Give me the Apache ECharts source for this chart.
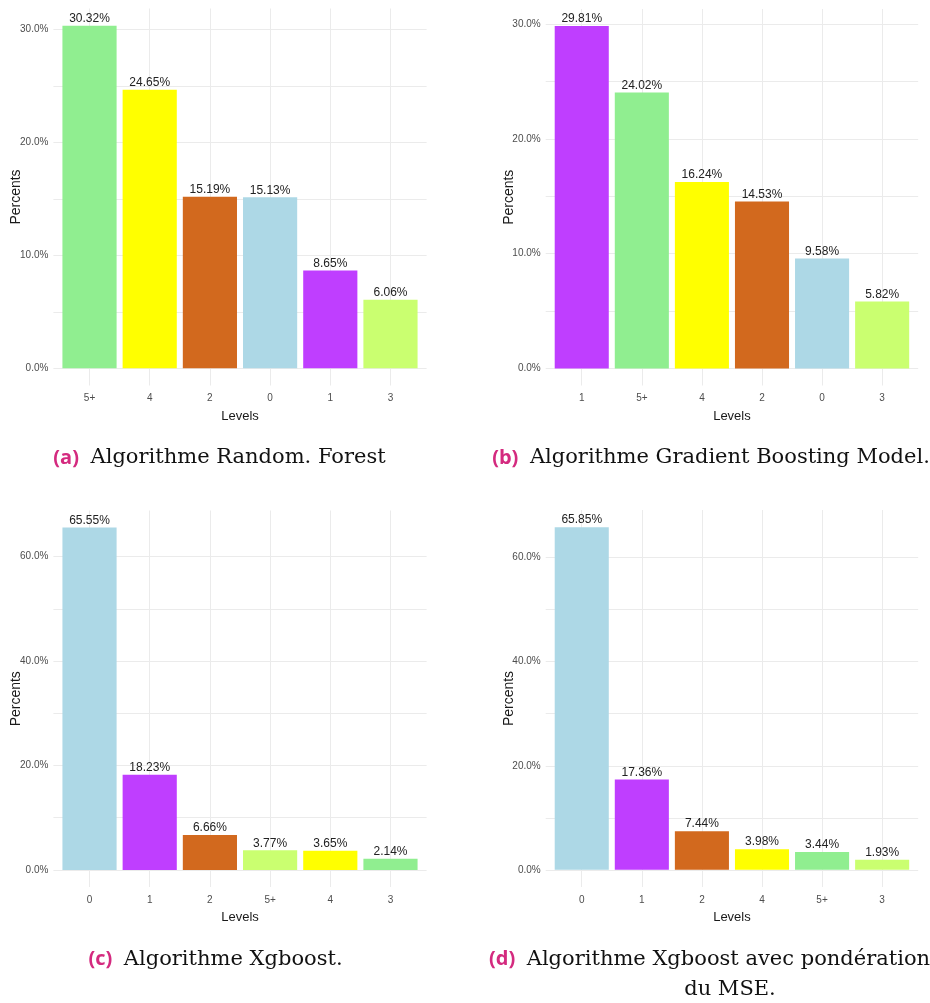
<!DOCTYPE html>
<html>
<head>
<meta charset="utf-8">
<script src="https://cdn.jsdelivr.net/npm/echarts@6/dist/echarts.min.js"></script>
<style>
  html, body { margin: 0; padding: 0; background: #ffffff; }
  #chart { width: 930px; height: 1003px; }
</style>
</head>
<body>
<div id="chart"></div>
<script>
// Distribution of predicted levels (percent of observations) for four models.
const levelsA = ['5+', '4', '2', '0', '1', '3'];
const percentsA = [30.32, 24.65, 15.19, 15.13, 8.65, 6.06];

const levelsB = ['1', '5+', '4', '2', '0', '3'];
const percentsB = [29.81, 24.02, 16.24, 14.53, 9.58, 5.82];

const levelsC = ['0', '1', '2', '5+', '4', '3'];
const percentsC = [65.55, 18.23, 6.66, 3.77, 3.65, 2.14];

const levelsD = ['0', '1', '2', '4', '5+', '3'];
const percentsD = [65.85, 17.36, 7.44, 3.98, 3.44, 1.93];

const captionLabels = ['(a)', '(b)', '(c)', '(d)'];
const captionTexts = [
  'Algorithme Random. Forest',
  'Algorithme Gradient Boosting Model.',
  'Algorithme Xgboost.',
  'Algorithme Xgboost avec pondération'
];
const captionContinuation = 'du MSE.';

// Bar fills
const LIGHTBLUE = '#ADD8E6';
const PURPLE = '#BF3EFF';
const CHOCOLATE = '#D2691E';
const LIME = '#CAFF70';
const YELLOW = '#FFFF00';
const LIGHTGREEN = '#90EE90';

const coloursA = [LIGHTGREEN, YELLOW, CHOCOLATE, LIGHTBLUE, PURPLE, LIME];
const coloursB = [PURPLE, LIGHTGREEN, YELLOW, CHOCOLATE, LIGHTBLUE, LIME];
const coloursC = [LIGHTBLUE, PURPLE, CHOCOLATE, LIME, YELLOW, LIGHTGREEN];
const coloursD = [LIGHTBLUE, PURPLE, CHOCOLATE, YELLOW, LIGHTGREEN, LIME];

const SANS = "'Liberation Sans Narrow', 'Arial Narrow', 'Liberation Sans', Arial, sans-serif";
const GRID_COLOR = '#ebebeb';

const panels = [
  { levels: levelsA, values: percentsA, colours: coloursA, labelStep: 10,
    rect: { left: 53.4, top: 8.5, width: 373.2, height: 377 } },
  { levels: levelsB, values: percentsB, colours: coloursB, labelStep: 10,
    rect: { left: 545.7, top: 9, width: 372.5, height: 376.5 } },
  { levels: levelsC, values: percentsC, colours: coloursC, labelStep: 20,
    rect: { left: 53.4, top: 510.5, width: 373.2, height: 376.5 } },
  { levels: levelsD, values: percentsD, colours: coloursD, labelStep: 20,
    rect: { left: 545.7, top: 510, width: 372.5, height: 377 } }
];

// Discrete axis padded by 0.6 of a step on each side, bars 90% of a step wide
const PAD = 0.6;
const BAR_FRACTION = 0.9;

const isWhole = v => Math.abs(v - Math.round(v)) < 1e-6;

const grid = [], xAxis = [], yAxis = [], series = [];

panels.forEach((p, i) => {
  const n = p.levels.length;
  const top = Math.max(...p.values);
  grid.push(Object.assign({ outerBoundsMode: 'none', containLabel: false }, p.rect));

  xAxis.push({
    type: 'value',
    gridIndex: i,
    min: -PAD,
    max: n - 1 + PAD,
    name: 'Levels',
    nameLocation: 'middle',
    nameGap: 24,
    nameMoveOverlap: false,
    nameTextStyle: { color: '#1a1a1a', fontSize: 13, fontFamily: SANS },
    axisLine: { show: false },
    axisTick: { show: false },
    axisLabel: {
      show: true,
      margin: 8,
      color: '#4d4d4d',
      fontSize: 10,
      fontFamily: SANS,
      showMinLabel: false,
      showMaxLabel: false,
      formatter: v => (isWhole(v) && v >= 0 && v < n) ? p.levels[Math.round(v)] : ''
    },
    splitLine: {
      show: true,
      showMinLine: false,
      showMaxLine: false,
      lineStyle: { color: GRID_COLOR, width: 1 }
    }
  });

  yAxis.push({
    type: 'value',
    gridIndex: i,
    min: -top * 0.05,
    max: top * 1.05,
    name: 'Percents',
    nameLocation: 'middle',
    nameRotate: 90,
    nameGap: 30,
    nameMoveOverlap: false,
    nameTextStyle: { color: '#1a1a1a', fontSize: 14, fontFamily: "'Liberation Sans', Arial, sans-serif" },
    axisLine: { show: false },
    axisTick: { show: false },
    axisLabel: {
      margin: 5,
      color: '#4d4d4d',
      fontSize: 10,
      fontFamily: SANS,
      showMinLabel: false,
      showMaxLabel: false,
      formatter: v => {
        if (v < -1e-6) return '';
        const r = v / p.labelStep;
        return isWhole(r) ? v.toFixed(1) + '%' : '';
      }
    },
    splitLine: {
      show: true,
      showMinLine: false,
      showMaxLine: false,
      lineStyle: { color: GRID_COLOR, width: 1 }
    }
  });

  const step = p.rect.width / (n - 1 + 2 * PAD);
  series.push({
    type: 'bar',
    xAxisIndex: i,
    yAxisIndex: i,
    barWidth: step * BAR_FRACTION,
    silent: true,
    animation: false,
    data: p.values.map((v, k) => ({
      value: [k, v],
      itemStyle: { color: p.colours[k] }
    })),
    label: {
      show: true,
      position: 'top',
      distance: 1,
      color: '#222222',
      fontSize: 12,
      fontFamily: SANS,
      formatter: d => d.value[1].toFixed(2) + '%'
    }
  });
});

// Sub-figure captions
const captionRich = {
  lab: { color: '#D42A7F', fontFamily: "'Open Sans', 'Noto Sans', sans-serif", fontWeight: 'bold', fontSize: 20, lineHeight: 24, padding: [0, 6, 0, 0] },
  txt: { color: '#111111', fontFamily: "'DejaVu Serif', serif", fontWeight: 'normal', fontSize: 21, lineHeight: 24 }
};
const captionPos = [
  { x: 219.5, y: 446 },
  { x: 711, y: 446 },
  { x: 215.5, y: 947.5 },
  { x: 709.5, y: 947.5 }
];
const title = captionTexts.map((t, i) => ({
  text: '{lab|' + captionLabels[i] + '} {txt|' + t + '}',
  left: captionPos[i].x,
  top: captionPos[i].y,
  textAlign: 'center',
  padding: 0,
  textStyle: { fontWeight: 'normal', fontSize: 20, rich: captionRich }
}));
title.push({
  text: '{txt|' + captionContinuation + '}',
  left: 730,
  top: 978,
  textAlign: 'center',
  padding: 0,
  textStyle: { fontWeight: 'normal', fontSize: 20, rich: captionRich }
});

const chart = echarts.init(document.getElementById('chart'), null, { renderer: 'canvas' });
chart.setOption({
  backgroundColor: '#ffffff',
  animation: false,
  title,
  grid,
  xAxis,
  yAxis,
  series
});
</script>
</body>
</html>
